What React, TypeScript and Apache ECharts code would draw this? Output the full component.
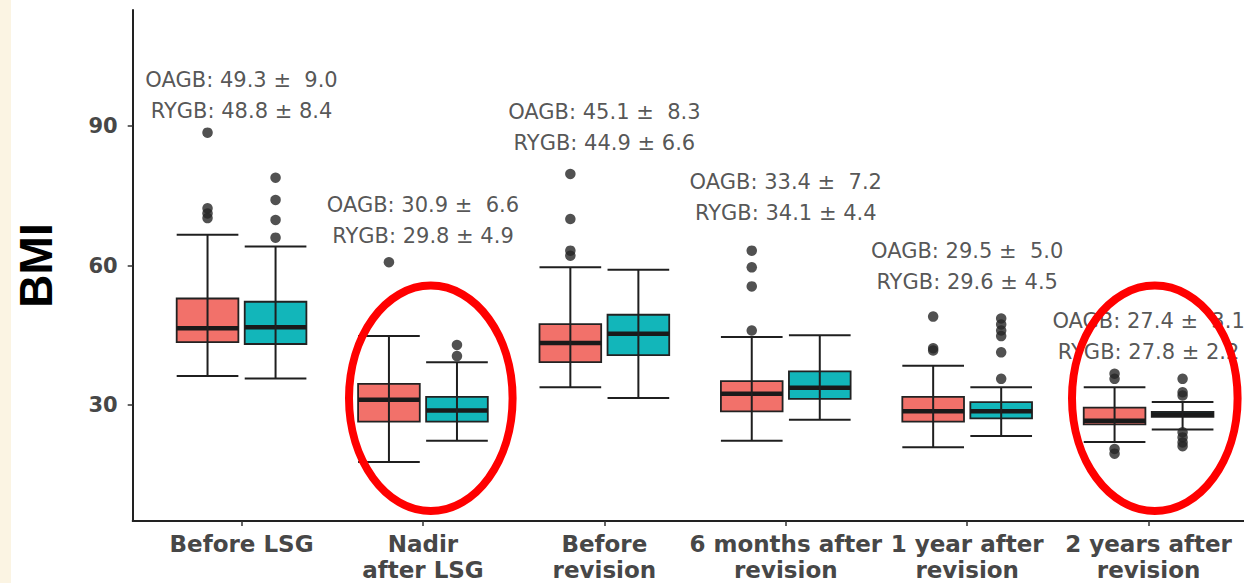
import React, { useEffect, useRef } from 'react';
import * as echarts from 'echarts';

const categories = [
  'Before LSG',
  'Nadir\nafter LSG',
  'Before\nrevision',
  '6 months after\nrevision',
  '1 year after\nrevision',
  '2 years after\nrevision',
];

// [lower whisker, Q1, median, Q3, upper whisker]
const oagbBoxes = [
  [36.2, 43.5, 46.5, 52.9, 66.6],
  [17.7, 26.4, 31.1, 34.5, 44.8],
  [33.8, 39.2, 43.3, 47.4, 59.6],
  [22.3, 28.6, 32.4, 35.1, 44.6],
  [20.9, 26.4, 28.6, 31.7, 38.4],
  [22.0, 25.8, 26.6, 29.4, 33.8],
];
const rygbBoxes = [
  [35.7, 43.1, 46.7, 52.2, 64.1],
  [22.3, 26.4, 28.8, 31.7, 39.2],
  [31.5, 40.7, 45.3, 49.4, 59.1],
  [26.8, 31.3, 33.7, 37.2, 45.0],
  [23.3, 27.1, 28.6, 30.6, 33.8],
  [24.7, 27.4, 27.9, 28.5, 30.6],
];

// [category number, value]
const oagbOutliers = [
  [1, 88.6], [1, 72.3], [1, 71.2], [1, 70.2],
  [2, 60.7],
  [3, 79.7], [3, 70.0], [3, 63.2], [3, 62.1],
  [4, 63.2], [4, 59.6], [4, 55.5], [4, 46.0],
  [5, 49.0], [5, 42.2], [5, 41.7],
  [6, 36.7], [6, 35.6], [6, 20.5], [6, 19.5],
];
const rygbOutliers = [
  [1, 78.9], [1, 74.1], [1, 69.8], [1, 66.0],
  [2, 42.9], [2, 40.5],
  [5, 48.6], [5, 47.3], [5, 46.0], [5, 44.8], [5, 41.3], [5, 35.6],
  [6, 35.6], [6, 32.7], [6, 32.0], [6, 24.1], [6, 23.0], [6, 21.9], [6, 21.1],
];

const oagbMean = [49.3, 30.9, 45.1, 33.4, 29.5, 27.4];
const oagbSd = [9.0, 6.6, 8.3, 7.2, 5.0, 3.1];
const rygbMean = [48.8, 29.8, 44.9, 34.1, 29.6, 27.8];
const rygbSd = [8.4, 4.9, 6.6, 4.4, 4.5, 2.2];
const annotationY = [96.6, 69.7, 89.7, 74.7, 59.8, 44.7];

const yTicks = [30, 60, 90];
const xTicks = [1, 2, 3, 4, 5, 6];

const OAGB_COLOR = '#F2716A';
const RYGB_COLOR = '#12B6BA';
const DODGE = 0.1875;
const BOX_W = 0.34;

function makeRenderer(fill: string) {
  return (params: any, api: any) => {
    const xc = api.value(0);
    const lo = api.value(1);
    const q1 = api.value(2);
    const med = api.value(3);
    const q3 = api.value(4);
    const hi = api.value(5);
    const pL = api.coord([xc - BOX_W / 2, q3]);
    const pR = api.coord([xc + BOX_W / 2, q1]);
    const pM = api.coord([xc, med]);
    const pLo = api.coord([xc, lo]);
    const pHi = api.coord([xc, hi]);
    const xl = pL[0];
    const xr = pR[0];
    const xm = pM[0];
    return {
      type: 'group',
      children: [
        {
          type: 'rect',
          shape: { x: xl, y: pL[1], width: xr - xl, height: pR[1] - pL[1] },
          style: { fill, stroke: '#222', lineWidth: 1.8 },
        },
        {
          type: 'line',
          shape: { x1: xl, y1: pM[1], x2: xr, y2: pM[1] },
          style: { stroke: '#1a1a1a', lineWidth: 4.5 },
        },
        {
          type: 'line',
          shape: { x1: xm, y1: pHi[1], x2: xm, y2: pLo[1] },
          style: { stroke: '#1f1f1f', lineWidth: 2 },
        },
        {
          type: 'line',
          shape: { x1: xl, y1: pHi[1], x2: xr, y2: pHi[1] },
          style: { stroke: '#1f1f1f', lineWidth: 2 },
        },
        {
          type: 'line',
          shape: { x1: xl, y1: pLo[1], x2: xr, y2: pLo[1] },
          style: { stroke: '#1f1f1f', lineWidth: 2 },
        },
      ],
    };
  };
}

export default function App() {
  const ref = useRef<HTMLDivElement>(null);

  useEffect(() => {
    if (!ref.current) return;
    const chart = echarts.init(ref.current, null, { renderer: 'svg' });

    const oagbData = oagbBoxes.map((b, i) => [i + 1 - DODGE, ...b]);
    const rygbData = rygbBoxes.map((b, i) => [i + 1 + DODGE, ...b]);
    const oagbOut = oagbOutliers.map(([c, v]) => [c - DODGE, v]);
    const rygbOut = rygbOutliers.map(([c, v]) => [c + DODGE, v]);
    const annData = annotationY.map((y, i) => [i + 1, y]);

    chart.setOption({
      animation: false,
      backgroundColor: '#ffffff',
      grid: { left: 132.7, right: 0, top: 10, bottom: 61.3, containLabel: false },
      xAxis: {
        type: 'value',
        min: 0.4,
        max: 6.526,
        splitLine: { show: false },
        axisLine: { show: true, onZero: false, lineStyle: { color: '#222', width: 2 } },
        axisTick: {
          show: true,
          customValues: xTicks,
          length: 5,
          lineStyle: { color: '#333', width: 1.5 },
        },
        axisLabel: {
          customValues: xTicks,
          formatter: (v: number) => categories[Math.round(v) - 1] ?? '',
          color: '#474747',
          fontFamily: 'DejaVu Sans',
          fontWeight: 'bold',
          fontSize: 23,
          lineHeight: 26,
          margin: 10,
        },
      },
      yAxis: {
        type: 'value',
        min: 5,
        max: 115,
        name: 'BMI',
        nameLocation: 'middle',
        nameRotate: 90,
        nameGap: 74,
        nameTextStyle: {
          fontFamily: 'Liberation Sans',
          fontWeight: 'bold',
          fontSize: 46,
          color: '#000',
        },
        splitLine: { show: false },
        axisLine: { show: true, onZero: false, lineStyle: { color: '#222', width: 2 } },
        axisTick: {
          show: true,
          customValues: yTicks,
          length: 5,
          lineStyle: { color: '#333', width: 1.5 },
        },
        axisLabel: {
          customValues: yTicks,
          color: '#474747',
          fontFamily: 'DejaVu Sans',
          fontWeight: 'bold',
          fontSize: 21,
          margin: 15,
        },
      },
      series: [
        {
          type: 'custom',
          name: 'OAGB',
          renderItem: makeRenderer(OAGB_COLOR),
          encode: { x: 0, y: [1, 2, 3, 4, 5] },
          data: oagbData,
          silent: true,
          z: 2,
        },
        {
          type: 'custom',
          name: 'RYGB',
          renderItem: makeRenderer(RYGB_COLOR),
          encode: { x: 0, y: [1, 2, 3, 4, 5] },
          data: rygbData,
          silent: true,
          z: 2,
        },
        {
          type: 'scatter',
          data: oagbOut,
          symbol: 'circle',
          symbolSize: 10.5,
          itemStyle: { color: '#262626' },
          silent: true,
          z: 3,
        },
        {
          type: 'scatter',
          data: rygbOut,
          symbol: 'circle',
          symbolSize: 10.5,
          itemStyle: { color: '#262626' },
          silent: true,
          z: 3,
        },
        {
          type: 'scatter',
          data: annData,
          symbolSize: 0,
          silent: true,
          z: 4,
          label: {
            show: true,
            position: 'inside',
            formatter: (p: any) => {
              const i = p.dataIndex;
              return (
                '{a|OAGB: ' + oagbMean[i].toFixed(1) + ' \u00b1  ' + oagbSd[i].toFixed(1) + '}\n' +
                '{a|RYGB: ' + rygbMean[i].toFixed(1) + ' \u00b1 ' + rygbSd[i].toFixed(1) + '}'
              );
            },
            rich: {
              a: {
                fontFamily: 'DejaVu Sans',
                fontSize: 21,
                color: '#2a2a2a',
                lineHeight: 30.7,
                align: 'center',
              },
            },
          },
        },
      ],
      graphic: [
        {
          type: 'rect',
          z: -10,
          shape: { x: 0, y: 0, width: 11, height: 583 },
          style: { fill: '#FBF4E3' },
          silent: true,
        },
        {
          type: 'ellipse',
          z: 100,
          shape: { cx: 430.8, cy: 398.3, rx: 81.8, ry: 112.7 },
          style: { fill: 'transparent', stroke: '#FF0000', lineWidth: 8 },
          silent: true,
        },
        {
          type: 'ellipse',
          z: 100,
          shape: { cx: 1154.8, cy: 398.3, rx: 82.8, ry: 112.7 },
          style: { fill: 'transparent', stroke: '#FF0000', lineWidth: 8 },
          silent: true,
        },
      ],
    });

    return () => {
      chart.dispose();
    };
  }, []);

  return (
    <div
      ref={ref}
      style={{ position: 'fixed', left: 0, top: 0, width: 1244, height: 583, background: '#fff' }}
    />
  );
}
